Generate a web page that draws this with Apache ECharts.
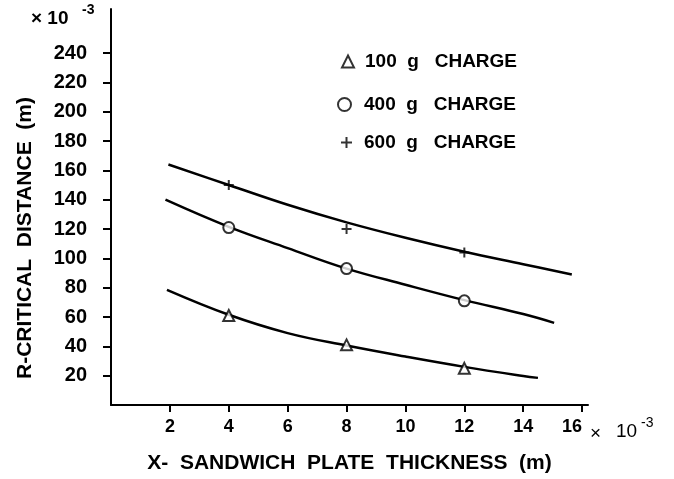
<!DOCTYPE html>
<html>
<head>
<meta charset="utf-8">
<script src="https://cdn.jsdelivr.net/npm/echarts@6/dist/echarts.min.js"></script>
<style>
  html, body { margin: 0; padding: 0; background: #fff; }
  #main { width: 674px; height: 479px; }
</style>
</head>
<body>
<div id="main"></div>
<script>
// measured points (x in 10^-3 m, R in 10^-3 m)
const markX = [4, 8, 12];
const r100 = [61, 41, 25];
const r400 = [121, 93, 71];
const r600 = [150, 120, 104];

// fitted curves
const fitX100 = [1.9, 4, 6, 8, 10, 12, 14, 14.5];
const fit100 = [78.5, 61.5, 49, 40.5, 33, 26, 19.8, 18.5];
const fitX400 = [1.85, 4, 6, 8, 10, 12, 14, 15.05];
const fit400 = [140, 121.5, 107, 93, 82, 71.5, 62, 56];
const fitX600 = [1.95, 4, 6, 8, 10, 12, 14, 15.65];
const fit600 = [164, 150, 136.5, 124.5, 114, 104.5, 96, 89];

const xTicks = [2, 4, 6, 8, 10, 12, 14, 16];
const yTicks = [20, 40, 60, 80, 100, 120, 140, 160, 180, 200, 220, 240];

const names = ['100  g   CHARGE', '400  g   CHARGE', '600  g   CHARGE'];

const FONT = '"Liberation Sans", Arial, sans-serif';
const plusPath = 'path://M0,5L10,5M5,0L5,10';

function zip(xs, ys) {
    return xs.map((x, i) => [x, ys[i]]);
}

function curve(xs, ys) {
    return {
        type: 'line',
        data: zip(xs, ys),
        smooth: 0.4,
        symbol: 'none',
        silent: true,
        lineStyle: { color: '#000', width: 2.5 },
        z: 2
    };
}

function legendAt(left, top, name, size, gap) {
    return {
        left: left, top: top, data: [name], itemWidth: size, itemHeight: size,
        textStyle: {
            fontSize: 19, fontWeight: 'bold', color: '#000', fontFamily: FONT,
            padding: [0, 0, 0, gap]
        }
    };
}

let myChart = echarts.init(document.getElementById('main'));

let option = {
    backgroundColor: '#fff',
    animation: false,
    textStyle: { fontFamily: FONT, color: '#000' },
    grid: { left: 111, right: 86, top: 9, bottom: 71 },
    legend: [
        legendAt(336, 47, names[0], 12, 6),
        legendAt(332, 90, names[1], 13, 8),
        legendAt(335, 128, names[2], 11, 7)
    ],
    xAxis: {
        type: 'value',
        min: 0,
        max: 16.2,
        name: 'X-  SANDWICH  PLATE  THICKNESS  (m)',
        nameLocation: 'middle',
        nameGap: 48,
        nameTextStyle: { fontSize: 21, fontWeight: 'bold', color: '#000', fontFamily: FONT },
        axisLine: { lineStyle: { color: '#000', width: 2 } },
        axisTick: { show: true, length: 7, lineStyle: { color: '#000', width: 2 }, customValues: xTicks },
        axisLabel: {
            customValues: xTicks, margin: 13, fontSize: 18, fontWeight: 'bold', color: '#000',
            fontFamily: FONT, alignMaxLabel: 'right'
        },
        splitLine: { show: false }
    },
    yAxis: {
        type: 'value',
        min: 0,
        max: 270,
        axisLine: { show: true, lineStyle: { color: '#000', width: 2 } },
        axisTick: { show: true, length: 8, lineStyle: { color: '#000', width: 2 }, customValues: yTicks },
        axisLabel: { customValues: yTicks, margin: 24, fontSize: 20, fontWeight: 'bold', color: '#000', fontFamily: FONT },
        splitLine: { show: false }
    },
    graphic: [
        {
            type: 'text', x: 25, y: 238, rotation: Math.PI / 2,
            style: {
                text: 'R-CRITICAL  DISTANCE  (m)', fill: '#000', font: 'bold 21px ' + FONT,
                align: 'center', verticalAlign: 'middle'
            }
        },
        { type: 'text', x: 31, y: 19, style: { text: '× 10', fill: '#000', font: 'bold 19px ' + FONT, verticalAlign: 'middle' } },
        { type: 'text', x: 82, y: 10, style: { text: '-3', fill: '#000', font: 'bold 14px ' + FONT, verticalAlign: 'middle' } },
        { type: 'text', x: 590, y: 434, style: { text: '×', fill: '#000', font: '19px ' + FONT, verticalAlign: 'middle' } },
        { type: 'text', x: 616, y: 432, style: { text: '10', fill: '#000', font: '19px ' + FONT, verticalAlign: 'middle' } },
        { type: 'text', x: 641, y: 423, style: { text: '-3', fill: '#000', font: '14px ' + FONT, verticalAlign: 'middle' } }
    ],
    series: [
        curve(fitX100, fit100),
        curve(fitX400, fit400),
        curve(fitX600, fit600),
        {
            name: names[0], type: 'scatter', data: zip(markX, r100),
            symbol: 'triangle', symbolSize: 11,
            itemStyle: { color: '#fff', borderColor: '#000', borderWidth: 2 }, z: 3
        },
        {
            name: names[1], type: 'scatter', data: zip(markX, r400),
            symbol: 'circle', symbolSize: 11,
            itemStyle: { color: '#fff', borderColor: '#000', borderWidth: 2 }, z: 3
        },
        {
            name: names[2], type: 'scatter', data: zip(markX, r600),
            symbol: plusPath, symbolSize: 10,
            itemStyle: { color: '#000', borderColor: '#000', borderWidth: 2 }, z: 3
        }
    ]
};

myChart.setOption(option);
</script>
</body>
</html>
